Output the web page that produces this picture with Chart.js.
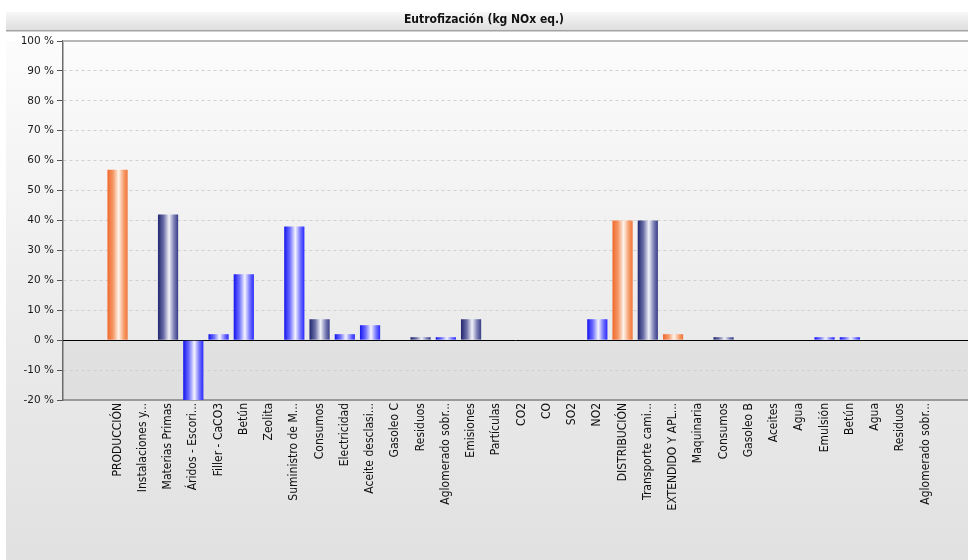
<!DOCTYPE html>
<html>
<head>
<meta charset="utf-8">
<title>Eutrofización</title>
<script src="https://cdn.jsdelivr.net/npm/chart.js@4/dist/chart.umd.min.js"></script>
<style>
  html, body { margin: 0; padding: 0; background: #fff; }
  #wrap { width: 968px; height: 560px; }
</style>
</head>
<body>
<div id="wrap"><canvas id="grafico" width="968" height="560"></canvas></div>
<script>
// categorías del eje X (tal como aparecen, ya recortadas)
const categorias = [
  'PRODUCCIÓN', 'Instalaciones y...', 'Materias Primas', 'Áridos - Escori...', 'Filler - CaCO3',
  'Betún', 'Zeolita', 'Suministro de M...', 'Consumos', 'Electricidad', 'Aceite desclasi...',
  'Gasoleo C', 'Residuos', 'Aglomerado sobr...', 'Emisiones', 'Partículas', 'CO2', 'CO', 'SO2',
  'NO2', 'DISTRIBUCIÓN', 'Transporte cami...', 'EXTENDIDO Y APL...', 'Maquinaria', 'Consumos',
  'Gasoleo B', 'Aceites', 'Agua', 'Emulsión', 'Betún', 'Agua', 'Residuos', 'Aglomerado sobr...'
];

// porcentaje de cada categoría
const valores = [
  57, 0, 42, -20, 2,
  22, 0, 38, 7, 2, 5,
  0, 1, 1, 7, 0, 0, 0, 0,
  7, 40, 40, 2, 0, 1,
  0, 0, 0, 1, 1, 0, 0, 0
];

// nivel en el árbol (1 = fase, 2 = grupo, 3 = elemento)
const niveles = [
  1, 2, 2, 3, 3,
  3, 3, 3, 2, 3, 3,
  3, 2, 3, 2, 3, 3, 3, 3,
  3, 1, 2, 1, 2, 2,
  3, 3, 3, 3, 3, 3, 2, 3
];

const ticksY = [-20, -10, 0, 10, 20, 30, 40, 50, 60, 70, 80, 90, 100];
const titulo = 'Eutrofización (kg NOx eq.)';

const degradados = {
  1: ['#f0682c', '#f59866', '#fff4ec', '#f6a070', '#f07436'],
  2: ['#20256e', '#6a6ea6', '#f2f2f8', '#7a7eb4', '#383d86'],
  3: ['#1414ee', '#6e6eff', '#f4f4ff', '#7474ff', '#2828ff']
};

function colorBarra(ctx) {
  const chart = ctx.chart;
  const stops = degradados[niveles[ctx.dataIndex]] || degradados[3];
  const x = chart.scales.x;
  if (!chart.chartArea || !x || ctx.type !== 'data') return stops[0];
  const cx = x.getPixelForValue(ctx.dataIndex);
  const half = (x.getPixelForValue(1) - x.getPixelForValue(0)) * 0.4;
  const g = chart.ctx.createLinearGradient(cx - half, 0, cx + half, 0);
  g.addColorStop(0, stops[0]);
  g.addColorStop(0.28, stops[1]);
  g.addColorStop(0.55, stops[2]);
  g.addColorStop(0.8, stops[3]);
  g.addColorStop(1, stops[4]);
  return g;
}

// fondo, barra del título y líneas 0% / 100%
const fondo = {
  id: 'fondo',
  beforeDraw(chart) {
    const c = chart.ctx, a = chart.chartArea, y = chart.scales.y;
    const W = chart.width, H = chart.height;
    c.save();
    c.fillStyle = '#fff';
    c.fillRect(0, 0, W, H);
    // panel gris
    let g = c.createLinearGradient(0, a.top, 0, H);
    g.addColorStop(0, '#fcfcfc');
    g.addColorStop(0.55, '#ebebeb');
    g.addColorStop(1, '#e1e1e1');
    c.fillStyle = g;
    c.fillRect(6, a.top, W - 6, H - a.top);
    // zona negativa algo más oscura
    const y0 = y.getPixelForValue(0);
    c.fillStyle = 'rgba(0,0,0,0.035)';
    c.fillRect(a.left, y0, a.right - a.left, a.bottom - y0);
    // barra del título
    g = c.createLinearGradient(0, 12, 0, 30);
    g.addColorStop(0, '#f7f7f7');
    g.addColorStop(1, '#dedede');
    c.fillStyle = g;
    c.fillRect(6, 12, W - 6, 18);
    c.fillStyle = '#a4a4a4';
    c.fillRect(6, 30, W - 6, 1.5);
    c.restore();
  },
  beforeDatasetsDraw(chart) {
    const c = chart.ctx, a = chart.chartArea, y = chart.scales.y;
    c.save();
    c.fillStyle = '#b8b8b8';
    c.fillRect(a.left, y.getPixelForValue(100) - 1, a.right - a.left, 2);
    c.strokeStyle = '#000';
    c.lineWidth = 1;
    const y0 = Math.round(y.getPixelForValue(0)) + 0.5;
    c.beginPath();
    c.moveTo(a.left, y0);
    c.lineTo(a.right, y0);
    c.stroke();
    c.restore();
  }
};

new Chart(document.getElementById('grafico'), {
  type: 'bar',
  data: {
    datasets: [{
      label: titulo,
      data: valores.map((v, i) => ({ x: i, y: v })),
      backgroundColor: colorBarra,
      borderWidth: 0,
      categoryPercentage: 0.8,
      barPercentage: 1
    }]
  },
  options: {
    responsive: false,
    animation: false,
    layout: { padding: { top: 0, right: 0, bottom: 0, left: 0 } },
    plugins: {
      legend: { display: false },
      tooltip: { enabled: false },
      title: {
        display: true,
        text: titulo,
        color: '#111',
        font: { family: '"DejaVu Sans Condensed", "Liberation Sans", sans-serif', size: 12, weight: 'bold' },
        padding: { top: 12.3, bottom: 14.3 }
      }
    },
    scales: {
      x: {
        type: 'linear',
        offset: false,
        min: -2.16,
        max: 33.68,
        grid: { display: false, drawTicks: false, offset: false },
        border: { display: true, color: '#9a9a9a', width: 2 },
        afterBuildTicks(scale) {
          scale.ticks = categorias.map((_, i) => ({ value: i }));
        },
        afterFit(scale) { scale.height = 160; },
        ticks: {
          autoSkip: false,
          minRotation: 90,
          maxRotation: 90,
          padding: 3,
          color: '#111',
          font: { family: '"DejaVu Sans Condensed", "Liberation Sans", sans-serif', size: 12 },
          callback: (v) => categorias[v]
        }
      },
      y: {
        min: -20,
        max: 100,
        afterBuildTicks(scale) {
          scale.ticks = ticksY.map(v => ({ value: v }));
        },
        afterFit(scale) { scale.width = 63; },
        grid: {
          color: (ctx) => (ctx.tick && (ctx.tick.value === 0 || ctx.tick.value === 100)) ? 'rgba(0,0,0,0)' : '#d0d0d0',
          tickColor: '#555',
          tickLength: 6,
          tickBorderDash: []
        },
        border: { display: true, color: '#6a6a6a', width: 1.5, dash: [3, 3] },
        ticks: {
          padding: 3,
          color: '#1a1a1a',
          font: { family: '"DejaVu Sans", Verdana, sans-serif', size: 10.5 },
          callback: (v) => v + ' %'
        }
      }
    }
  },
  plugins: [fondo]
});
</script>
</body>
</html>
